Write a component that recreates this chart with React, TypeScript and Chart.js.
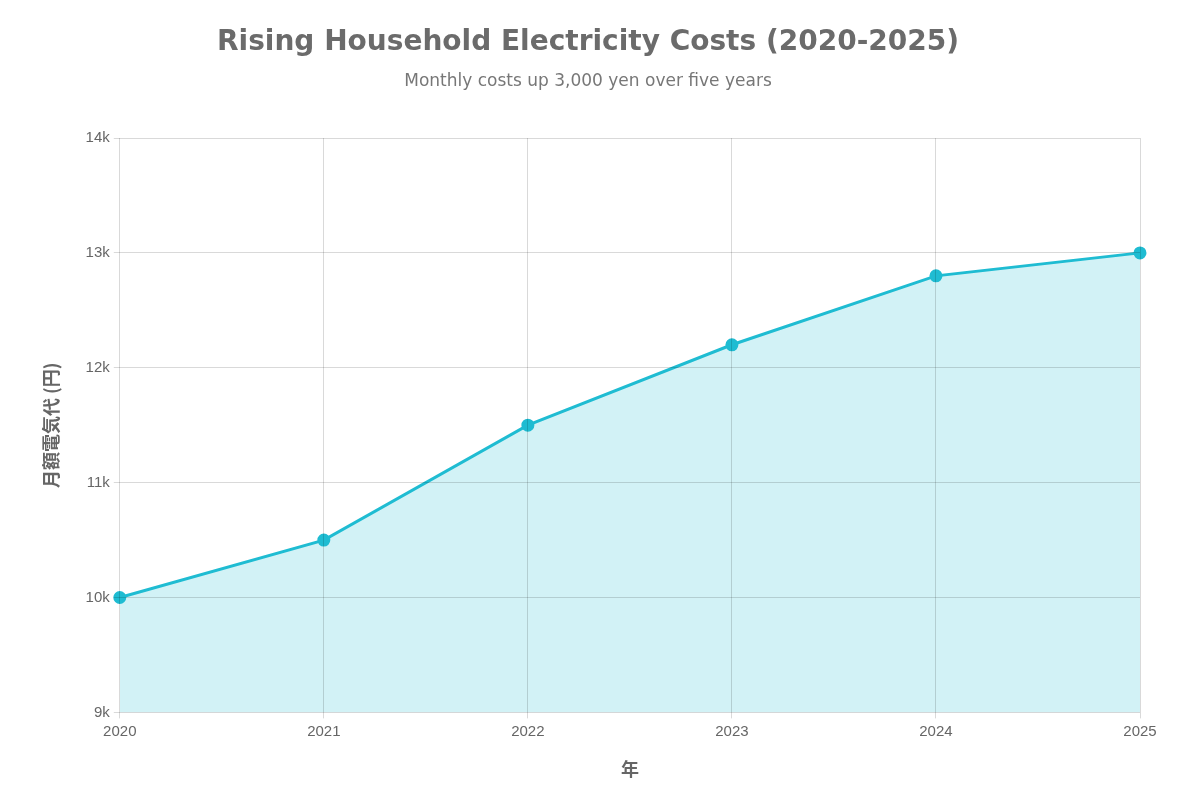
import React, { useEffect, useRef } from "react";
import { Chart, registerables } from "chart.js";
Chart.register(...registerables);

const years = ["2020", "2021", "2022", "2023", "2024", "2025"];
const costs = [10000, 10500, 11500, 12200, 12800, 13000];
const yTicks = [9000, 10000, 11000, 12000, 13000, 14000];

export default function App() {
  const ref = useRef<HTMLCanvasElement>(null);
  useEffect(() => {
    const c = new Chart(ref.current!, {
      type: "line",
      data: {
        labels: years,
        datasets: [{
          data: costs,
          borderColor: "#1fbcd2",
          backgroundColor: "rgba(31,188,210,0.2)",
          fill: "start",
          borderWidth: 3,
          pointRadius: 5,
          pointBackgroundColor: "#1fbcd2",
          pointBorderColor: "#1fbcd2",
          tension: 0,
        }],
      },
      options: {
        animation: false,
        responsive: false,
        layout: { padding: { left: 36, right: 60, top: 20, bottom: 16 } },
        plugins: {
          legend: { display: false },
          title: { display: true, text: "Rising Household Electricity Costs (2020-2025)", color: "#6b6b6b", font: { family: "DejaVu Sans", size: 28, weight: "bold" }, padding: { top: 6, bottom: 12 } },
          subtitle: { display: true, text: "Monthly costs up 3,000 yen over five years", color: "#777", font: { family: "DejaVu Sans", size: 17 }, padding: { bottom: 46 } },
          tooltip: { enabled: false },
        },
        scales: {
          x: {
            offset: false,
            grid: { color: "rgba(0,0,0,0.15)", z: 1, tickLength: 6, drawTicks: true },
            border: { display: false },
            ticks: { color: "#666", font: { family: "Liberation Sans", size: 15 }, padding: 4 },
            title: { display: true, text: "年", color: "#666", font: { family: "Noto Sans CJK JP", size: 18, weight: "bold" }, padding: { top: 14 } },
          },
          y: {
            min: 9000, max: 14000,
            afterBuildTicks: (ax: any) => { ax.ticks = yTicks.map((v) => ({ value: v })); },
            grid: { color: "rgba(0,0,0,0.15)", z: 1, tickLength: 6 },
            border: { display: false },
            ticks: { color: "#666", font: { family: "Liberation Sans", size: 15 }, padding: 4, callback: (v: any) => Number(v) / 1000 + "k" },
            title: { display: true, text: "月額電気代 (円)", color: "#666", font: { family: "Noto Sans CJK JP", size: 18, weight: "bold" }, padding: { bottom: 20 } },
          },
        },
      },
    });
    return () => c.destroy();
  }, []);
  return (
    <div style={{ position: "absolute", left: 0, top: 0, width: 1200, height: 800, background: "#fff" }}>
      <canvas ref={ref} width={1200} height={800} />
    </div>
  );
}
